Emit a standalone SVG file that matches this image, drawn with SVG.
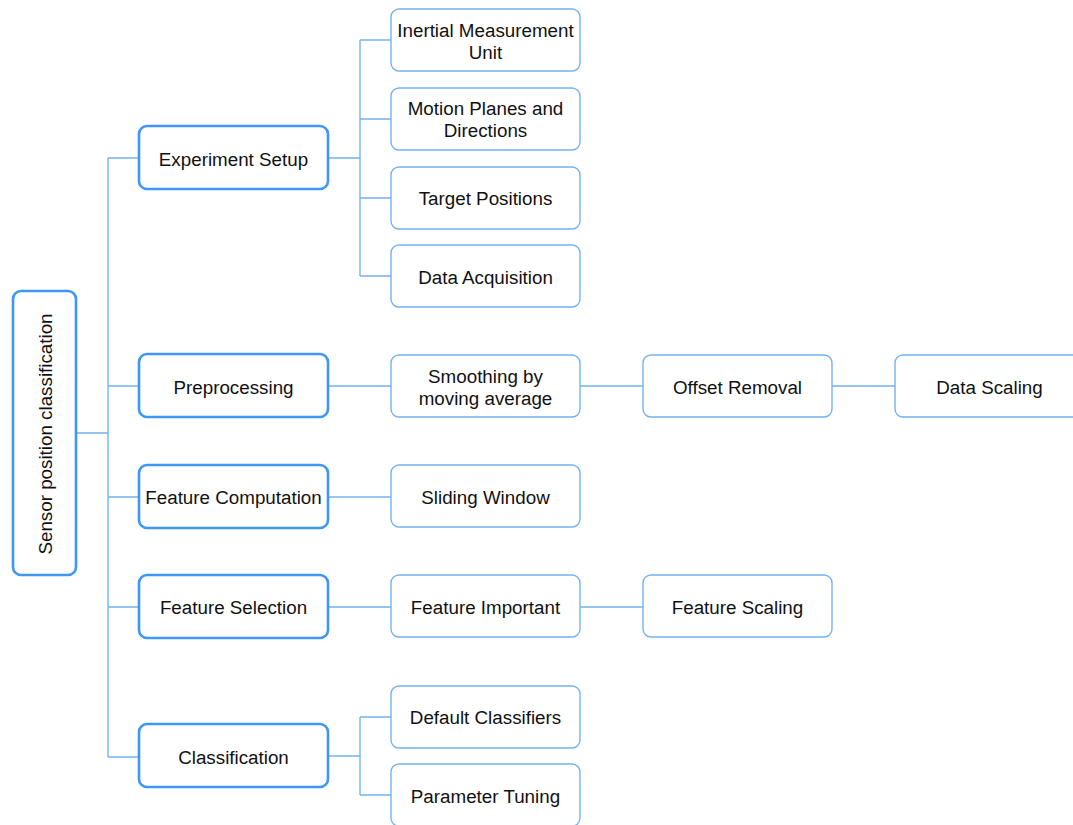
<svg xmlns="http://www.w3.org/2000/svg" width="1073" height="825" viewBox="0 0 1073 825">
<style>
.bg{fill:#fff}
.main{fill:#fff;stroke:#3d97f3;stroke-width:2.6}
.sub{fill:#fff;stroke:#74b3f2;stroke-width:1.4}
.c{fill:none;stroke:#74b3f2;stroke-width:1.4}
text{font-family:"Liberation Sans",Arial,sans-serif;font-size:18.8px;fill:#111;text-anchor:middle;dominant-baseline:central}
</style>
<rect class="bg" width="1073" height="825"/>
<g id="connectors">
<path class="c" d="M76 433H108M108 158V757M108 158H139M108 386H139M108 497H139M108 607H139M108 757H139"/>
<path class="c" d="M328 158H360M360 40V276M360 40H391M360 119H391M360 198H391M360 276H391"/>
<path class="c" d="M328 386H391M580 386H643M832 386H895"/>
<path class="c" d="M328 497H391"/>
<path class="c" d="M328 607H391M580 607H643"/>
<path class="c" d="M328 756H360M360 717V795M360 717H391M360 795H391"/>
</g>
<g id="root"><rect class="main" x="13" y="291" width="63" height="284" rx="8"/><text transform="translate(45 434) rotate(-90)">Sensor position classification</text></g>
<g id="exp"><rect class="main" x="139" y="126" width="189" height="63" rx="8"/><text x="233.5" y="159">Experiment Setup</text></g>
<g id="pre"><rect class="main" x="139" y="354" width="189" height="63" rx="8"/><text x="233.5" y="387">Preprocessing</text></g>
<g id="fc"><rect class="main" x="139" y="465" width="189" height="63" rx="8"/><text x="233.5" y="497">Feature Computation</text></g>
<g id="fs"><rect class="main" x="139" y="575" width="189" height="63" rx="8"/><text x="233.5" y="607">Feature Selection</text></g>
<g id="cls"><rect class="main" x="139" y="724" width="189" height="63" rx="8"/><text x="233.5" y="757">Classification</text></g>
<g id="imu"><rect class="sub" x="391" y="9" width="189" height="62" rx="8"/><text x="485.5" y="30">Inertial Measurement</text><text x="485.5" y="52">Unit</text></g>
<g id="mpd"><rect class="sub" x="391" y="88" width="189" height="62" rx="8"/><text x="485.5" y="108">Motion Planes and</text><text x="485.5" y="130">Directions</text></g>
<g id="tp"><rect class="sub" x="391" y="167" width="189" height="62" rx="8"/><text x="485.5" y="198">Target Positions</text></g>
<g id="da"><rect class="sub" x="391" y="245" width="189" height="62" rx="8"/><text x="485.5" y="277">Data Acquisition</text></g>
<g id="sma"><rect class="sub" x="391" y="355" width="189" height="62" rx="8"/><text x="485.5" y="376">Smoothing by</text><text x="485.5" y="398">moving average</text></g>
<g id="or"><rect class="sub" x="643" y="355" width="189" height="62" rx="8"/><text x="737.5" y="387">Offset Removal</text></g>
<g id="ds"><rect class="sub" x="895" y="355" width="189" height="62" rx="8"/><text x="989.5" y="387">Data Scaling</text></g>
<g id="sw"><rect class="sub" x="391" y="465" width="189" height="62" rx="8"/><text x="485.5" y="497">Sliding Window</text></g>
<g id="fi"><rect class="sub" x="391" y="575" width="189" height="62" rx="8"/><text x="485.5" y="607">Feature Important</text></g>
<g id="fsc"><rect class="sub" x="643" y="575" width="189" height="62" rx="8"/><text x="737.5" y="607">Feature Scaling</text></g>
<g id="dc"><rect class="sub" x="391" y="686" width="189" height="62" rx="8"/><text x="485.5" y="717">Default Classifiers</text></g>
<g id="pt"><rect class="sub" x="391" y="764" width="189" height="62" rx="8"/><text x="485.5" y="796">Parameter Tuning</text></g>
</svg>
